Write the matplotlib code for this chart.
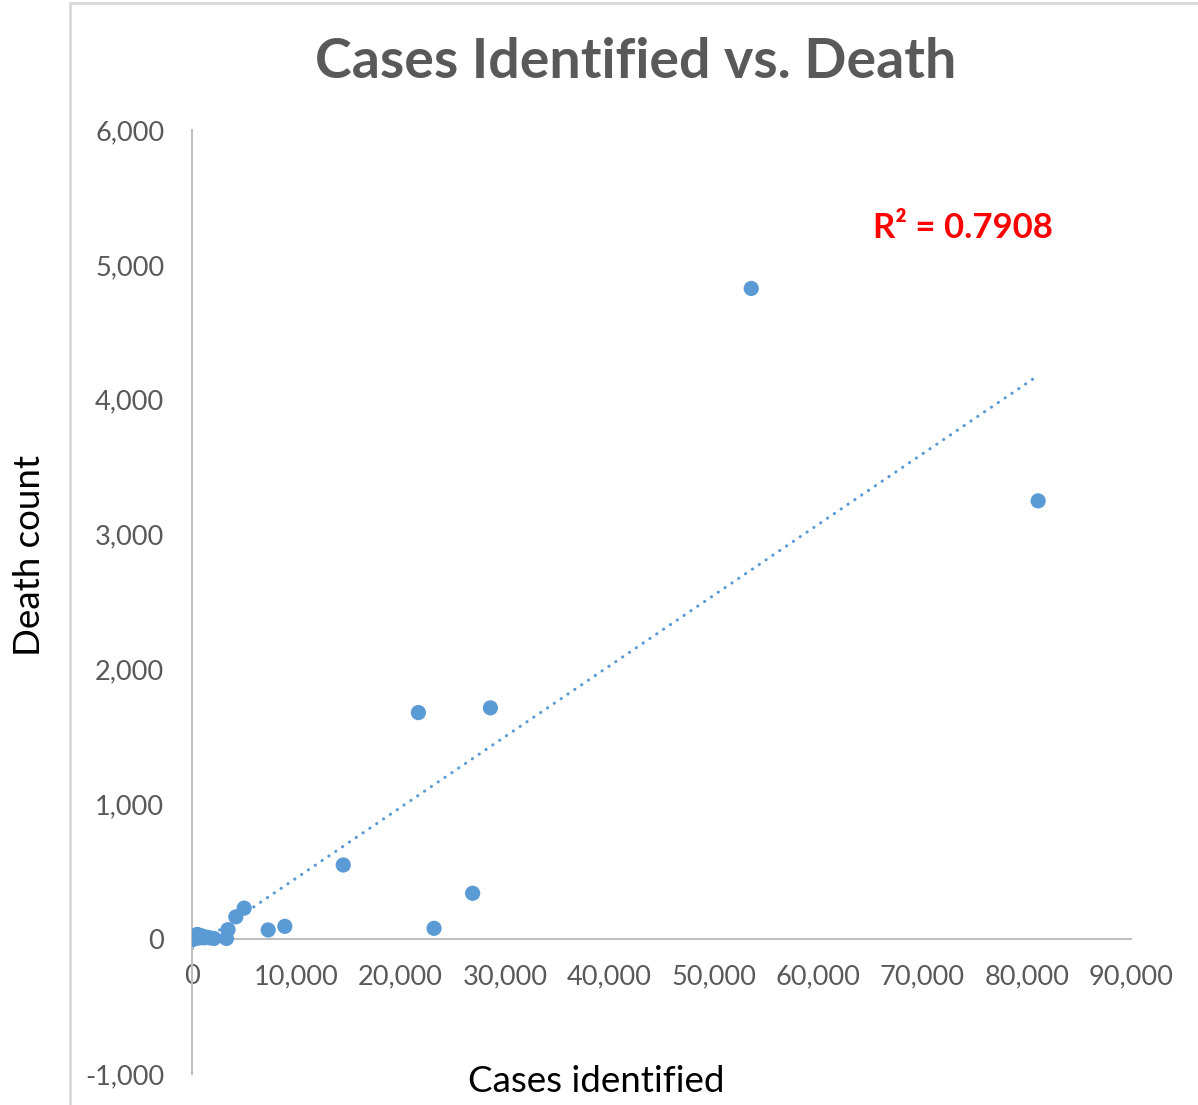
import matplotlib
matplotlib.use("Agg")
import matplotlib.pyplot as plt
import numpy as np
from matplotlib.patches import Rectangle
from matplotlib.ticker import FuncFormatter

# cases identified vs deaths
cases = [81100, 53600, 28600, 21700, 14500, 26900, 23200, 8900, 7300, 5000,
         4200, 3450, 3300, 2100, 1700, 1400, 1200, 1000, 900, 800,
         700, 600, 500, 400, 300, 200, 150, 100, 50, 20]
deaths = [3250, 4825, 1715, 1680, 550, 340, 80, 95, 68, 230,
          165, 70, 5, 5, 10, 15, 10, 20, 25, 10,
          15, 30, 35, 15, 5, 3, 2, 1, 0, 0]

x_ticks = [0, 10000, 20000, 30000, 40000, 50000, 60000, 70000, 80000, 90000]
y_ticks = [-1000, 0, 1000, 2000, 3000, 4000, 5000, 6000]

plt.rcParams['font.family'] = ['Lato', 'DejaVu Sans']

W, H = 1198, 1105
fig = plt.figure(figsize=(W / 100, H / 100), dpi=100)
ax = fig.add_axes([192 / W, 1 - 1074 / H, (1131 - 192) / W, (1074 - 130) / H])

blue = '#5B9BD5'
x = np.array(cases, dtype=float)
y = np.array(deaths, dtype=float)

# linear trendline like excel
k, b = np.polyfit(x, y, 1)
xs = np.linspace(x.min(), x.max(), 200)
ax.plot(xs, k * xs + b, color=blue, lw=2.2, linestyle=(0, (0.1, 2.6)),
        dash_capstyle='round', zorder=2)
ax.scatter(x, y, s=120, color=blue, edgecolors='none', zorder=3)

ax.set_xlim(0, 90000)
ax.set_ylim(-1000, 6000)
ax.set_xticks(x_ticks)
ax.set_yticks(y_ticks)
fmt = FuncFormatter(lambda v, p: '{:,.0f}'.format(v))
ax.xaxis.set_major_formatter(fmt)
ax.yaxis.set_major_formatter(fmt)

for s in ['top', 'right']:
    ax.spines[s].set_visible(False)
ax.spines['bottom'].set_position(('data', 0))
ax.spines['left'].set_position(('data', 0))
for s in ['bottom', 'left']:
    ax.spines[s].set_color('#BFBFBF')
    ax.spines[s].set_linewidth(1.5)
ax.tick_params(axis='both', length=0, labelsize=19.5, labelcolor='#595959')
ax.tick_params(axis='y', pad=20)
ax.tick_params(axis='x', pad=18)
ax.patch.set_alpha(0)

fig.text(636 / W, 1 - 62 / H, 'Cases Identified vs. Death', ha='center', va='center',
         fontsize=40, fontweight='bold', color='#595959')
fig.text(30 / W, 1 - 555 / H, 'Death count', rotation=90, ha='center', va='center',
         fontsize=26.5, color='black')
fig.text(596 / W, 1 - 1082 / H, 'Cases identified', ha='center', va='center',
         fontsize=26.5, color='black')
fig.text(963 / W, 1 - 228 / H, 'R² = 0.7908', ha='center', va='center',
         fontsize=25, fontweight='bold', color='red')

# chart area border (only top and left edges are visible)
fig.patches.append(Rectangle((70 / W, -0.05), 1.0, 1.05 - 3 / H, transform=fig.transFigure,
                             fill=False, edgecolor='#D9D9D9', lw=2))

fig.savefig('out.png', dpi=100)
